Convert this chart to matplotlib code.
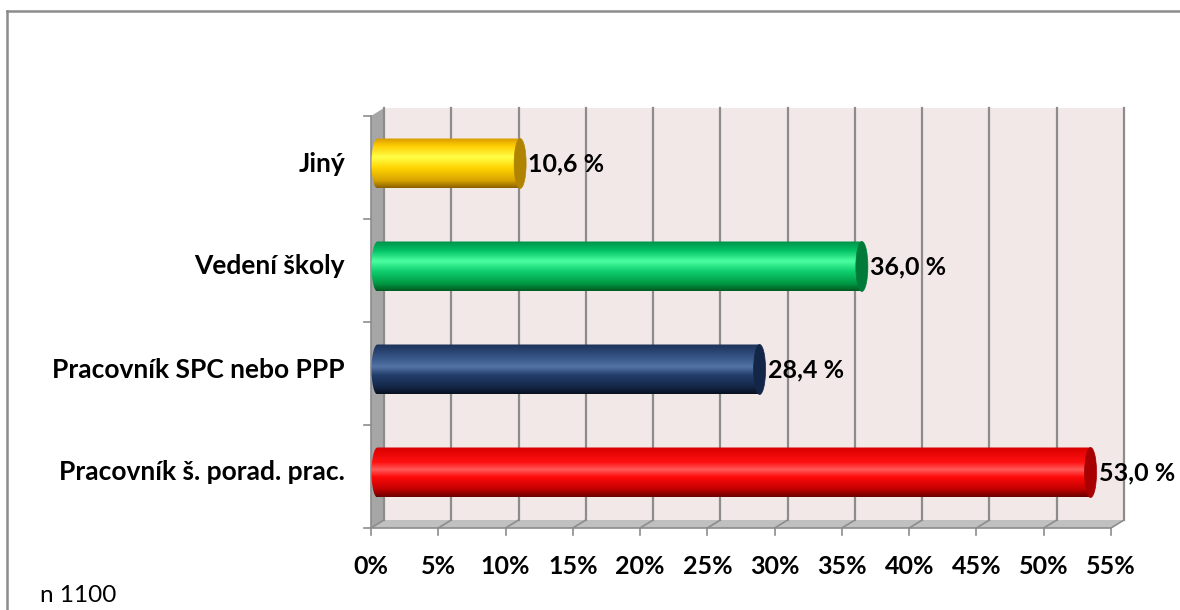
import numpy as np
import matplotlib
matplotlib.use("Agg")
import matplotlib.pyplot as plt
from matplotlib.patches import Polygon, Ellipse, PathPatch
from matplotlib.path import Path
from matplotlib.colors import to_rgb

# data
categories = ["Pracovník š. porad. prac.", "Pracovník SPC nebo PPP", "Vedení školy", "Jiný"]
values = [53.0, 28.4, 36.0, 10.6]
value_labels = ["53,0 %", "28,4 %", "36,0 %", "10,6 %"]
xticks = [0, 5, 10, 15, 20, 25, 30, 35, 40, 45, 50, 55]
xtick_labels = [f"{t}%" for t in xticks]
note = "n 1100"

# gradient stops (top -> bottom) and cap colour for each bar
grads = [
    [(0, "#d80000"), (0.3, "#ff1010"), (0.45, "#ff5a5a"), (0.6, "#ff0a0a"), (0.85, "#c00000"), (1, "#6a0000")],
    [(0, "#1c3158"), (0.3, "#3a5a8c"), (0.45, "#5574a6"), (0.62, "#233f6c"), (0.85, "#15284a"), (1, "#08101f")],
    [(0, "#00904a"), (0.18, "#00c064"), (0.4, "#4cffa0"), (0.6, "#10d070"), (0.85, "#009a44"), (1, "#005a22")],
    [(0, "#d89a00"), (0.15, "#ffcc00"), (0.38, "#ffff48"), (0.6, "#ffd400"), (0.85, "#d8a400"), (1, "#8c6000")],
]
caps = ["#a80000", "#132647", "#007a38", "#b08400"]

W, H = 1180, 610
fig = plt.figure(figsize=(W / 100, H / 100), dpi=100)
fig.patch.set_facecolor("white")

# axes placed so that the front plane matches the reference
x0px, x1px, ybot, ytop = 371, 1111, 528, 116
ax = fig.add_axes([x0px / W, (H - ybot) / H, (x1px - x0px) / W, (ybot - ytop) / H])
ax.set_xlim(0, 55)
ax.set_ylim(0, 4)
ax.axis("off")

pxx = 55 / (x1px - x0px)     # data per pixel (x)
pxy = 4 / (ybot - ytop)      # data per pixel (y)
dx, dy = 13 * pxx, 8 * pxy   # depth of the 3d box
grid_c = "#8c8c8c"

# back wall, side wall, floor
ax.add_patch(Polygon([(dx, dy), (55 + dx, dy), (55 + dx, 4 + dy), (dx, 4 + dy)],
                     closed=True, fc="#f3e8e8", ec="none", clip_on=False, zorder=0))
ax.add_patch(Polygon([(0, 0), (dx, dy), (dx, 4 + dy), (0, 4)],
                     closed=True, fc="#a6a6a6", ec="none", clip_on=False, zorder=1))
ax.add_patch(Polygon([(0, 0), (55, 0), (55 + dx, dy), (dx, dy)],
                     closed=True, fc="#c0c0c0", ec="none", clip_on=False, zorder=1))
for t in xticks:
    ax.plot([t + dx, t + dx], [dy, 4 + dy], color=grid_c, lw=1.6, clip_on=False, zorder=1)
    ax.plot([t, t + dx], [0, dy], color=grid_c, lw=1.2, clip_on=False, zorder=1)
    ax.plot([t, t], [0, -7 * pxy], color=grid_c, lw=1.2, clip_on=False, zorder=1)
ax.plot([0, 55], [0, 0], color=grid_c, lw=1.2, clip_on=False, zorder=2)
ax.plot([0, 0], [0, 4], color=grid_c, lw=1.2, clip_on=False, zorder=2)
for k in range(5):
    ax.plot([0, -7 * pxx], [k, k], color=grid_c, lw=1.2, clip_on=False, zorder=2)

# x tick labels
for t, lab in zip(xticks, xtick_labels):
    ax.text(t, -38 * pxy, lab, ha="center", va="center", fontsize=18,
            fontweight="bold", family="Lato", clip_on=False)


def gradient_img(stops, n=100):
    pos = np.array([s[0] for s in stops])
    cols = np.array([to_rgb(s[1]) for s in stops])
    yy = np.linspace(0, 1, n)
    rgb = np.stack([np.interp(yy, pos, cols[:, i]) for i in range(3)], axis=1)
    return rgb[:, None, :]


# bars (cylinders)
ys = np.arange(len(categories)) + 0.5 + dy / 2
bh = 50 * pxy
cw = 12 * pxx
bars = ax.barh(ys, values, left=dx / 2, height=bh, color="none", zorder=3)
for i, b in enumerate(bars):
    xl = b.get_x()
    xr = xl + b.get_width()
    yc = b.get_y() + bh / 2
    th = np.linspace(np.pi / 2, 3 * np.pi / 2, 40)
    verts = [(xl + cw / 2 * np.cos(a), yc + bh / 2 * np.sin(a)) for a in th]
    verts += [(xr, yc - bh / 2), (xr, yc + bh / 2), (xl, yc + bh / 2)]
    clip = PathPatch(Path(verts, closed=True), transform=ax.transData, fc="none", ec="none")
    ax.add_patch(clip)
    im = ax.imshow(gradient_img(grads[i]), extent=(xl - cw, xr, yc - bh / 2, yc + bh / 2),
                   aspect="auto", origin="upper", zorder=3, interpolation="bilinear")
    im.set_clip_path(clip)
    ax.add_patch(Ellipse((xr, yc), cw, bh, fc=caps[i], ec=caps[i], lw=0.5, zorder=4))
    ax.text(xr + cw / 2 + 2 * pxx, yc, value_labels[i], ha="left", va="center",
            fontsize=18, fontweight="bold", family="Lato", zorder=5)
    ax.text(-26 * pxx, yc, categories[i], ha="right", va="center",
            fontsize=19, fontweight="bold", family="Lato", clip_on=False)

ax.set_xlim(0, 55)
ax.set_ylim(0, 4)

# outer chart border (left and top edges visible)
fig.add_artist(plt.Line2D([7 / W, 7 / W], [0, 1 - 11 / H], color="#8c8c8c", lw=1.8))
fig.add_artist(plt.Line2D([7 / W, 1], [1 - 11 / H, 1 - 11 / H], color="#8c8c8c", lw=1.8))

fig.text(40 / W, 1 - 596 / H, note, ha="left", va="center", fontsize=17.5, family="Lato")

fig.savefig("out.png", dpi=100)
